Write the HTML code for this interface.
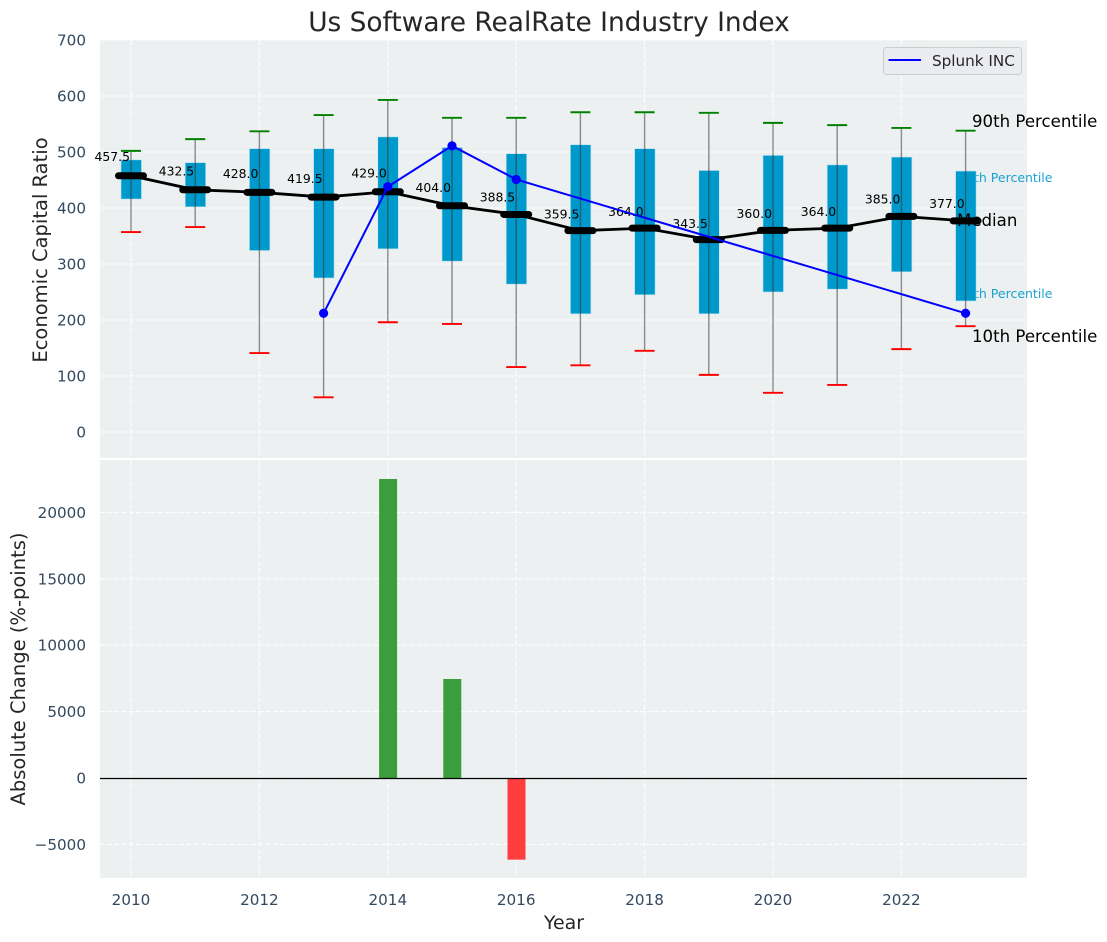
<!DOCTYPE html>
<html lang="en">
<head>
<meta charset="utf-8">
<title>Us Software RealRate Industry Index</title>
<style>
html,body{margin:0;padding:0;background:#fff;width:1107px;height:942px;overflow:hidden}
svg{display:block;font-family:"DejaVu Sans","Liberation Sans",sans-serif}
</style>
</head>
<body>
<svg id="chart" xmlns="http://www.w3.org/2000/svg" width="1107" height="942" viewBox="0 0 1107 942"></svg>
<script>
const years = [2010,2011,2012,2013,2014,2015,2016,2017,2018,2019,2020,2021,2022,2023];
const p90 = [502,523,537,566,593,561,561,571,571,570,552,548,543,538];
const p75 = [486,481,506,506,527,508,497,513,506,467,494,477,491,466];
const medians = [457.5,432.5,428.0,419.5,429.0,404.0,388.5,359.5,364.0,343.5,360.0,364.0,385.0,377.0];
const p25 = [416,402,324,275,327,305,264,211,245,211,250,255,286,234];
const p10 = [357,366,141,62,196,193,116,119,145,102,70,84,148,189];
const splunkYears = [2013,2014,2015,2016,2023];
const splunkValues = [212,438,511,451,212];
const changeYears = [2014,2015,2016];
const changeValues = [22515,7455,-6150];
const topTicks = [0,100,200,300,400,500,600,700];
const bottomTicks = [-5000,0,5000,10000,15000,20000];
const xTicks = [2010,2012,2014,2016,2018,2020,2022];

const NS = 'http://www.w3.org/2000/svg';
const svg = document.getElementById('chart');
const xs = y => 131 + (y - 2010) * 64.2;
const yTop = v => 432 - v * 0.56;
const yBot = v => 778 - v * 0.01328;
const AX = {left:100, right:1027, topY:40, topEnd:458, botY:460, botEnd:878};
function mk(tag, attrs, text){
  const el = document.createElementNS(NS, tag);
  for (const k in attrs) el.setAttribute(k, attrs[k]);
  if (text !== undefined) el.textContent = text;
  svg.appendChild(el);
  return el;
}
let el;

el = mk('rect',{x:AX.left,y:AX.topY,width:AX.right-AX.left,height:AX.topEnd-AX.topY,fill:'#ecf0f1'});


el = mk('rect',{x:AX.left,y:AX.botY,width:AX.right-AX.left,height:AX.botEnd-AX.botY,fill:'#ecf0f1'});



const gridStyle = {stroke:'#ffffff','stroke-width':1.2,'stroke-dasharray':'5 2.2','stroke-opacity':0.85};
for (const t of xTicks){
  el = mk('line',{x1:xs(t),x2:xs(t),y1:AX.topY,y2:AX.topEnd,...gridStyle});
  
  
  el = mk('line',{x1:xs(t),x2:xs(t),y1:AX.botY,y2:AX.botEnd,...gridStyle});
  
  
  el = mk('text',{x:xs(t),y:905,'text-anchor':'middle','font-size':15.2,fill:'#34495e'},String(t));
  
  
}
for (const t of topTicks){
  el = mk('line',{x1:AX.left,x2:AX.right,y1:yTop(t),y2:yTop(t),...gridStyle});
  
  
  el = mk('text',{x:86,y:yTop(t)+5.5,'text-anchor':'end','font-size':15.2,fill:'#34495e'},String(t));
  
  
}
for (const t of bottomTicks){
  el = mk('line',{x1:AX.left,x2:AX.right,y1:yBot(t),y2:yBot(t),...gridStyle});
  
  
  el = mk('text',{x:86,y:yBot(t)+5.5,'text-anchor':'end','font-size':15.2,fill:'#34495e'},String(t).replace('-','\u2212'));
  
  
}

const lastX = xs(years[years.length-1]);
el = mk('text',{x:lastX-7.5,y:182,'font-size':12.5,fill:'#0099cc','fill-opacity':0.9},'75th Percentile');


el = mk('text',{x:lastX-7.5,y:298,'font-size':12.5,fill:'#0099cc','fill-opacity':0.9},'25th Percentile');



years.forEach((yr,i)=>{
  const cx = xs(yr);
  el = mk('rect',{x:cx-10,y:yTop(p75[i]),width:20.5,height:yTop(p25[i])-yTop(p75[i]),fill:'#0099cc',stroke:'#bfe5f2','stroke-width':0.6});
  
  
  el = mk('line',{x1:cx,x2:cx,y1:yTop(p90[i]),y2:yTop(p10[i]),stroke:'#333333','stroke-width':1.4,'stroke-opacity':0.55});
  
  
  el = mk('line',{x1:cx-10,x2:cx+10,y1:yTop(p90[i]),y2:yTop(p90[i]),stroke:'#008000','stroke-width':1.9});
  
  
  el = mk('line',{x1:cx-10,x2:cx+10,y1:yTop(p10[i]),y2:yTop(p10[i]),stroke:'#ff0000','stroke-width':1.9});
  
  
});

el = mk('polyline',{points:years.map((y,i)=>xs(y)+','+yTop(medians[i])).join(' '),fill:'none',stroke:'#000','stroke-width':2.8});


years.forEach((yr,i)=>{
  const cx = xs(yr), cy = yTop(medians[i]);
  el = mk('line',{x1:cx-12.5,x2:cx+12.5,y1:cy,y2:cy,stroke:'#000','stroke-width':7,'stroke-linecap':'round'});
  
  
});
years.forEach((yr,i)=>{
  el = mk('text',{x:xs(yr)-1,y:yTop(medians[i]*1.05)-2.2,'text-anchor':'end','font-size':12.4,fill:'#000'},medians[i].toFixed(1));
  
  
});

el = mk('polyline',{points:splunkYears.map((y,i)=>xs(y)+','+yTop(splunkValues[i])).join(' '),fill:'none',stroke:'#0000ff','stroke-width':2});


splunkYears.forEach((y,i)=>{
  el = mk('circle',{cx:xs(y),cy:yTop(splunkValues[i]),r:4.6,fill:'#0000ff'});
  
  
});

el = mk('text',{x:972,y:127,'font-size':16.6,fill:'#000'},'90th Percentile');


el = mk('text',{x:957,y:226,'font-size':16.6,fill:'#000'},'Median');


el = mk('text',{x:972,y:342,'font-size':16.6,fill:'#000'},'10th Percentile');



changeYears.forEach((y,i)=>{
  const v = changeValues[i];
  const y0 = yBot(Math.max(v,0)), y1 = yBot(Math.min(v,0));
  el = mk('rect',{x:xs(y)-8.7,y:y0,width:18,height:y1-y0,fill:v>=0?'#3a9e3c':'#ff3d3f'});
  
  
});
el = mk('line',{x1:AX.left,x2:AX.right,y1:yBot(0)+0.5,y2:yBot(0)+0.5,stroke:'#000','stroke-width':1.2});



el = mk('rect',{x:883.5,y:47.5,width:138,height:27,rx:3,fill:'#ebebf1','fill-opacity':0.85,stroke:'#cccccc','stroke-width':1});


el = mk('line',{x1:888.5,x2:921,y1:60,y2:60,stroke:'#0000ff','stroke-width':2});


el = mk('text',{x:932,y:66,'font-size':15.2,fill:'#262626'},'Splunk INC');



el = mk('text',{x:549,y:31,'text-anchor':'middle','font-size':26.4,fill:'#262626'},'Us Software RealRate Industry Index');


el = mk('text',{x:564,y:929,'text-anchor':'middle','font-size':19,fill:'#262626'},'Year');


el = mk('text',{x:47,y:250,'text-anchor':'middle','font-size':19.5,fill:'#262626',transform:'rotate(-90 47 250)'},'Economic Capital Ratio');


el = mk('text',{x:25,y:669,'text-anchor':'middle','font-size':19.5,fill:'#262626',transform:'rotate(-90 25 669)'},'Absolute Change (%-points)');


</script>
</body>
</html>
